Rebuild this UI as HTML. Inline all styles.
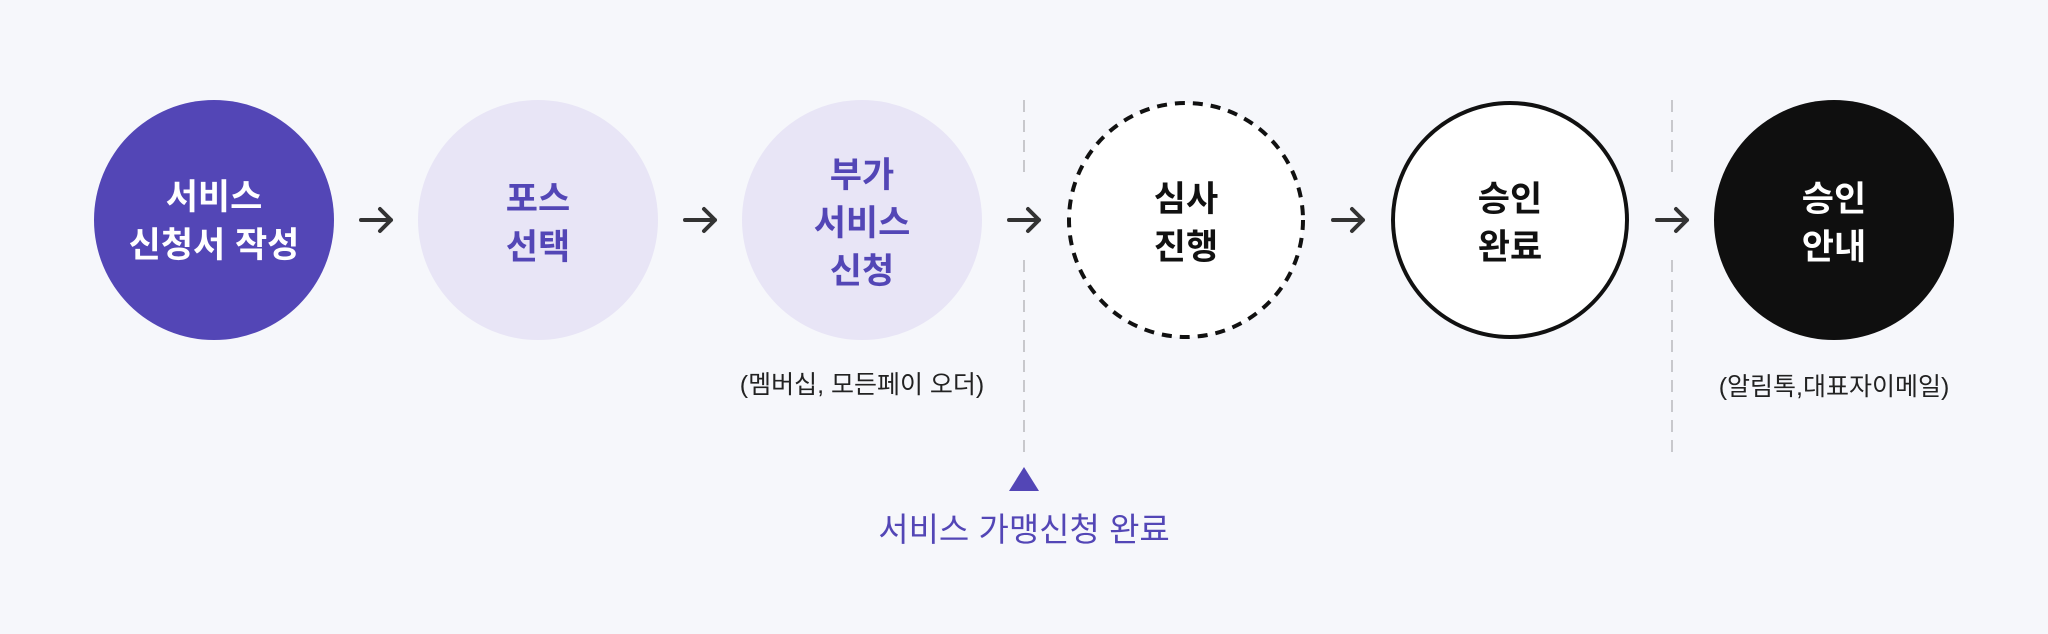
<!DOCTYPE html>
<html><head><meta charset="utf-8"><style>
html,body{margin:0;padding:0;background:#f6f7fb;}
body{width:2048px;height:634px;position:relative;overflow:hidden;font-family:"Liberation Sans","Noto Sans CJK KR",sans-serif;}
.t{position:absolute;text-align:center;font-weight:bold;font-size:35px;line-height:48px;transform:translate(-50%,-50%);white-space:nowrap;}
.s{position:absolute;text-align:center;font-size:25px;transform:translate(-50%,-50%);white-space:nowrap;color:#222;}
</style></head><body>
<svg width="2048" height="634" style="position:absolute;left:0;top:0">
<circle cx="214" cy="220" r="120" fill="#5346b6"/>
<circle cx="538" cy="220" r="120" fill="#e8e5f6"/>
<circle cx="862" cy="220" r="120" fill="#e8e5f6"/>
<circle cx="1186" cy="220" r="117" fill="#fff" stroke="#111" stroke-width="4" stroke-dasharray="10 8"/>
<circle cx="1510" cy="220" r="117" fill="#fff" stroke="#111" stroke-width="4"/>
<circle cx="1834" cy="220" r="120" fill="#0f0f0f"/>
<g stroke="#333" stroke-width="4" fill="none" stroke-linecap="round" stroke-linejoin="round">
<path d="M361 220h30M380 209l11 11-11 11"/>
<path d="M685 220h30M704 209l11 11-11 11"/>
<path d="M1009 220h30M1028 209l11 11-11 11"/>
<path d="M1333 220h30M1352 209l11 11-11 11"/>
<path d="M1657 220h30M1676 209l11 11-11 11"/>
</g>
<g stroke="#c8c8cc" stroke-width="2" stroke-dasharray="12 8">
<path d="M1024 100v80M1024 260v192"/>
<path d="M1672 100v80M1672 260v192"/>
</g>
<path d="M1024 467l-15 24h30z" fill="#5346b6"/>
</svg>
<div class="t" style="left:214px;top:222px;color:#fff">서비스<br>신청서 작성</div>
<div class="t" style="left:538px;top:224px;color:#5346b6">포스<br>선택</div>
<div class="t" style="left:862px;top:224px;color:#5346b6">부가<br>서비스<br>신청</div>
<div class="t" style="left:1186px;top:224px;color:#111">심사<br>진행</div>
<div class="t" style="left:1510px;top:224px;color:#111">승인<br>완료</div>
<div class="t" style="left:1834px;top:224px;color:#fff">승인<br>안내</div>
<div class="s" style="left:862px;top:383px">(멤버십, 모든페이 오더)</div>
<div class="s" style="left:1834px;top:385px">(알림톡,대표자이메일)</div>
<div class="s" style="left:1024px;top:527px;font-size:33px;color:#5346b6">서비스 가맹신청 완료</div>
</body></html>
